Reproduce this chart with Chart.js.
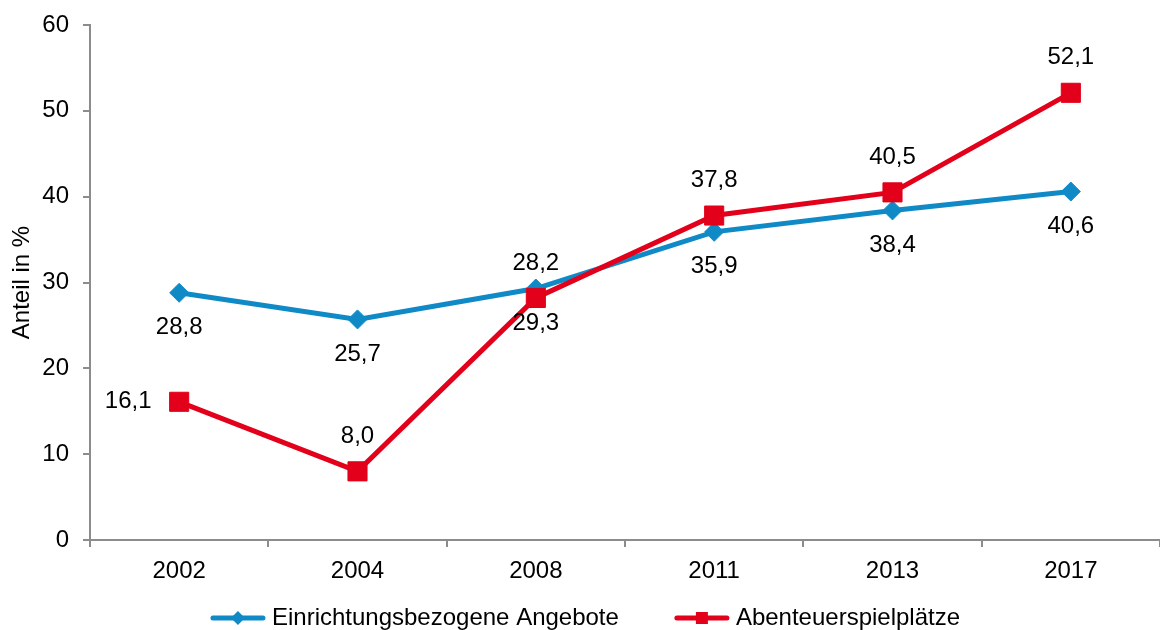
<!DOCTYPE html>
<html>
<head>
<meta charset="utf-8">
<script src="https://cdn.jsdelivr.net/npm/chart.js@4.4.1/dist/chart.umd.min.js"></script>
<style>
  html, body { margin: 0; padding: 0; background: #fff; overflow: hidden; }
  #wrap { width: 1160px; height: 630px; position: relative; }
</style>
</head>
<body>
<div id="wrap"><canvas id="chartAnteil"></canvas></div>
<script>
const years = ["2002", "2004", "2008", "2011", "2013", "2017"];
const einrichtungsbezogen = [28.8, 25.7, 29.3, 35.9, 38.4, 40.6];
const abenteuerspielplaetze = [16.1, 8.0, 28.2, 37.8, 40.5, 52.1];
const seriesNames = ["Einrichtungsbezogene Angebote", "Abenteuerspielplätze"];
const yTicks = [0, 10, 20, 30, 40, 50, 60];

const FONT = '"Liberation Sans", Arial, sans-serif';
const BLUE = "#0F8AC7";
const RED = "#E2001A";
const AXIS = "#8C8C8C";

// value labels: blue below, red above (first red one to the left)
const valueLabels = {
  id: "valueLabels",
  afterDatasetsDraw(chart) {
    const ctx = chart.ctx;
    ctx.save();
    ctx.font = "24px " + FONT;
    ctx.fillStyle = "#000";
    ctx.textAlign = "center";
    ctx.textBaseline = "middle";
    chart.data.datasets.forEach((ds, i) => {
      chart.getDatasetMeta(i).data.forEach((pt, j) => {
        const txt = ds.data[j].toFixed(1).replace(".", ",");
        const where = ds.labelAt(j);
        let x = pt.x, y = pt.y;
        if (where === "below") y += 35;
        else if (where === "left") x -= 51;
        else y -= 35;
        ctx.fillText(txt, x, y);
      });
    });
    ctx.restore();
  }
};

// legend with a short line and the marker in the middle
const lineLegend = {
  id: "lineLegend",
  afterDraw(chart) {
    const ctx = chart.ctx;
    ctx.save();
    ctx.font = "24px " + FONT;
    const lineLen = 56, gap = 6, itemGap = 55;
    const items = chart.data.datasets.map(ds => ({ ds, w: ctx.measureText(ds.label).width }));
    const total = items.reduce((s, it) => s + lineLen + gap + it.w, 0) + itemGap * (items.length - 1);
    let x = chart.width / 2 + 5 - total / 2;
    const y = chart.height - 12;
    items.forEach(({ ds, w }) => {
      ctx.strokeStyle = ds.borderColor;
      ctx.lineWidth = 5;
      ctx.lineCap = "round";
      ctx.beginPath();
      ctx.moveTo(x + 3, y);
      ctx.lineTo(x + lineLen - 3, y);
      ctx.stroke();
      const cx = x + lineLen / 2;
      ctx.fillStyle = ds.borderColor;
      ctx.beginPath();
      if (ds.pointStyle === "rectRot") {
        ctx.moveTo(cx - 7, y); ctx.lineTo(cx, y - 7); ctx.lineTo(cx + 7, y); ctx.lineTo(cx, y + 7);
      } else {
        ctx.rect(cx - 6, y - 6, 12, 12);
      }
      ctx.fill();
      ctx.fillStyle = "#000";
      ctx.textAlign = "left";
      ctx.textBaseline = "middle";
      ctx.fillText(ds.label, x + lineLen + gap, y);
      x += lineLen + gap + w + itemGap;
    });
    ctx.restore();
  }
};

Chart.defaults.font.family = FONT;
Chart.defaults.font.size = 24;
Chart.defaults.color = "#000";

new Chart(document.getElementById("chartAnteil"), {
  type: "line",
  data: {
    labels: years,
    datasets: [
      {
        label: seriesNames[0],
        data: einrichtungsbezogen,
        borderColor: BLUE,
        backgroundColor: BLUE,
        borderWidth: 5,
        pointStyle: "rectRot",
        pointRadius: 9.5,
        pointBorderWidth: 1,
        tension: 0,
        order: 2,
        labelAt: () => "below"
      },
      {
        label: seriesNames[1],
        data: abenteuerspielplaetze,
        borderColor: RED,
        backgroundColor: RED,
        borderWidth: 5,
        pointStyle: "rect",
        pointRadius: 13.5,
        pointBorderWidth: 1,
        tension: 0,
        order: 1,
        labelAt: j => (j === 0 ? "left" : "above")
      }
    ]
  },
  options: {
    responsive: true,
    maintainAspectRatio: false,
    animation: false,
    events: [],
    layout: { autoPadding: false, padding: { top: 25, right: 0, bottom: 40, left: 0 } },
    plugins: {
      legend: { display: false },
      tooltip: { enabled: false }
    },
    scales: {
      x: {
        offset: true,
        grid: {
          offset: true,
          drawOnChartArea: false,
          drawTicks: true,
          tickLength: 7,
          color: AXIS,
          lineWidth: 2
        },
        border: { display: true, color: AXIS, width: 2 },
        ticks: { padding: 10, font: { size: 24 } },
        afterFit: s => {
          s.height = 50;
          s.paddingLeft = 0;
          s.paddingRight = 0;
        }
      },
      y: {
        min: 0,
        max: 60,
        afterBuildTicks: s => { s.ticks = yTicks.map(v => ({ value: v })); },
        grid: {
          drawOnChartArea: false,
          drawTicks: true,
          tickLength: 7,
          color: AXIS,
          lineWidth: 2
        },
        border: { display: true, color: AXIS, width: 2 },
        ticks: { padding: 14, font: { size: 24 } },
        title: {
          display: true,
          text: "Anteil in %",
          font: { size: 24 },
          padding: { top: 8, bottom: 0 }
        },
        afterFit: s => {
          s.width = 90;
          s.paddingTop = 0;
          s.paddingBottom = 0;
        }
      }
    }
  },
  plugins: [valueLabels, lineLegend]
});
</script>
</body>
</html>
